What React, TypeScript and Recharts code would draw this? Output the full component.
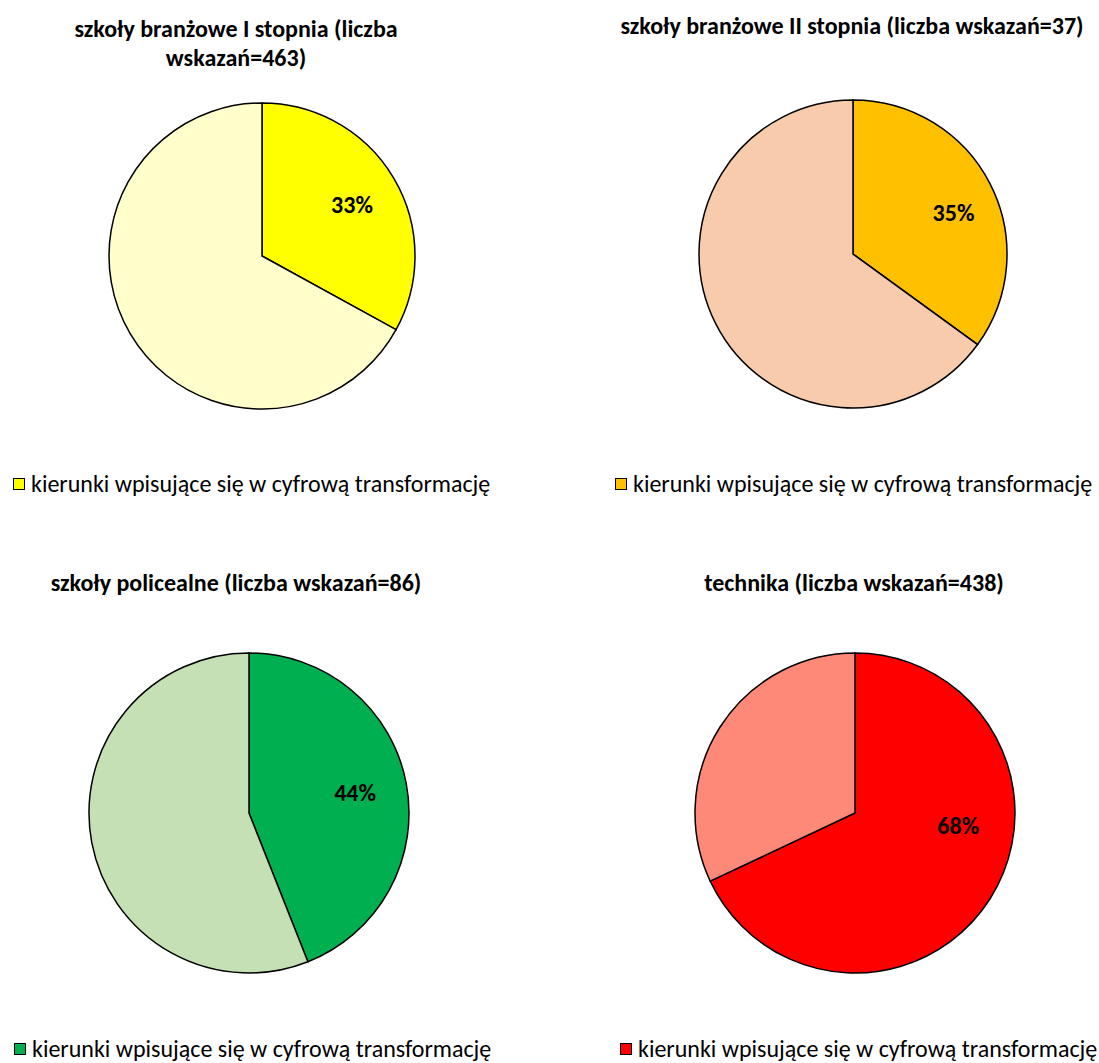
import { Legend, Pie, PieChart, Cell } from "recharts";

// cztery wykresy kołowe: udział kierunków wpisujących się w cyfrową transformację
const titles = [
  "szkoły branżowe I stopnia (liczba\nwskazań=463)",
  "szkoły branżowe II stopnia (liczba wskazań=37)",
  "szkoły policealne (liczba wskazań=86)",
  "technika (liczba wskazań=438)",
];
const seriesNames = ["kierunki wpisujące się w cyfrową transformację", "pozostałe kierunki"];
const digitalShare = [33, 35, 44, 68];
const otherShare = [67, 65, 56, 32];

const mainColors = ["#FFFF00", "#FFC000", "#00B050", "#FF0000"];
const restColors = ["#FFFFCC", "#F8CBAD", "#C5E0B4", "#FF8979"];

// pozycje paneli i kół (piksele w obrębie panelu)
const panels = [
  { left: 0, top: 0, cx: 262, cy: 256, r: 153, titleX: 236, titleY: 14, legX: 13, legY: 469, labR: 0.678, labShift: -0.8 },
  { left: 550, top: 0, cx: 303, cy: 254, r: 154, titleX: 302, titleY: 11, legX: 65, legY: 469, labR: 0.705, labShift: -4.8 },
  { left: 0, top: 530, cx: 249, cy: 283, r: 160, titleX: 236, titleY: 38, legX: 14, legY: 504, labR: 0.675, labShift: 0 },
  { left: 550, top: 530, cx: 305, cy: 283, r: 160, titleX: 304, titleY: 38, legX: 70, legY: 504, labR: 0.65, labShift: 25.4 },
];

const FONT = "Carlito, Calibri, 'Liberation Sans', Arial, sans-serif";
const RAD = Math.PI / 180;

function PiePanel({ i }: { i: number }) {
  const p = panels[i];
  const data = [
    { name: seriesNames[0], value: digitalShare[i] },
    { name: seriesNames[1], value: otherShare[i] },
  ];

  const renderLabel = (props: any) => {
    if (props.index !== 0) return null;
    const ang = (props.midAngle + p.labShift) * RAD;
    const rr = props.outerRadius * p.labR;
    const x = props.cx + rr * Math.cos(-ang);
    const y = props.cy + rr * Math.sin(-ang);
    return (
      <text x={x} y={y} textAnchor="middle" dominantBaseline="central" fontFamily={FONT} fontWeight="bold" fontSize={24} fill="#000">
        {`${Math.round(props.percent * 100)}%`}
      </text>
    );
  };

  return (
    <div style={{ position: "absolute", left: p.left, top: p.top, width: 549, height: 533 }}>
      <div
        style={{
          position: "absolute",
          left: p.titleX - 270,
          top: p.titleY,
          width: 540,
          textAlign: "center",
          whiteSpace: "pre-line",
          fontFamily: FONT,
          fontWeight: "bold",
          fontSize: 24,
          lineHeight: "29px",
          color: "#000",
        }}
      >
        {titles[i]}
      </div>
      <PieChart width={549} height={533} margin={{ top: 0, right: 0, bottom: 0, left: 0 }}>
        <Pie
          data={data}
          dataKey="value"
          nameKey="name"
          cx={p.cx}
          cy={p.cy}
          outerRadius={p.r}
          startAngle={90}
          endAngle={-270}
          stroke="#000"
          strokeWidth={1.5}
          label={renderLabel}
          labelLine={false}
          isAnimationActive={false}
        >
          {data.map((d, k) => (
            <Cell key={d.name} fill={k === 0 ? mainColors[i] : restColors[i]} />
          ))}
        </Pie>
        <Legend
          wrapperStyle={{ position: "absolute", left: p.legX, top: p.legY, width: "auto", height: "auto", bottom: "auto" }}
          content={() => (
            <div
              style={{
                display: "flex",
                alignItems: "center",
                fontFamily: FONT,
                fontSize: 24,
                lineHeight: "29px",
                color: "#000",
                whiteSpace: "nowrap",
              }}
            >
              <span
                style={{
                  display: "inline-block",
                  width: 10,
                  height: 10,
                  background: mainColors[i],
                  border: "1.5px solid #000",
                  marginRight: 6,
                  flexShrink: 0,
                }}
              />
              {seriesNames[0]}
            </div>
          )}
        />
      </PieChart>
    </div>
  );
}

export default function App() {
  return (
    <div style={{ position: "absolute", left: 0, top: 0, width: 1099, height: 1063, background: "#fff" }}>
      {titles.map((_, i) => (
        <PiePanel key={i} i={i} />
      ))}
    </div>
  );
}
